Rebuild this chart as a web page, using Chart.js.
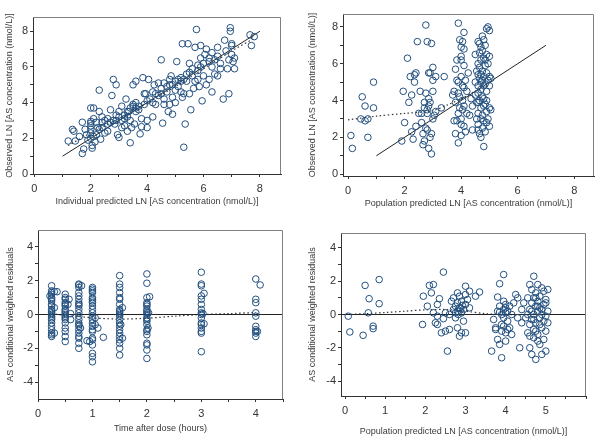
<!DOCTYPE html>
<html>
<head>
<meta charset="utf-8">
<script src="https://cdn.jsdelivr.net/npm/chart.js@4.4.0/dist/chart.umd.min.js"></script>
<style>
  body { margin: 0; background: #fff; }
  canvas { position: absolute; }
</style>
</head>
<body>
<canvas id="c1" style="left:0;top:0" width="300" height="220"></canvas>
<canvas id="c2" style="left:300px;top:0" width="300" height="220"></canvas>
<canvas id="c3" style="left:0;top:220px" width="300" height="224"></canvas>
<canvas id="c4" style="left:300px;top:220px" width="300" height="224"></canvas>
<script>
// observed vs individual predicted (top left)
const indivPoints = [
  [1.2,1.85],[1.45,1.85],[1.35,2.5],[1.4,2.4],[1.7,1.15],[1.75,1.4],[1.7,2.9],[1.6,2.1],[1.8,2.5],[1.85,2.2],
  [1.9,1.9],[2.0,2.0],[2.0,2.3],[2.0,2.5],[2.0,2.7],[2.0,2.85],[2.0,2.95],[2.05,1.6],[2.05,1.45],[2.1,2.1],
  [2.15,1.8],[2.2,2.2],[2.0,3.7],[2.1,3.7],[2.3,4.7],[2.25,2.6],[2.3,3.5],[2.35,1.95],[2.4,2.9],[2.4,3.2],
  [2.5,3.0],[2.5,2.3],[2.6,3.1],[2.6,2.4],[2.7,3.6],[2.75,4.4],[2.8,5.3],[2.9,5.0],[2.8,3.0],[2.85,2.8],
  [2.9,3.3],[2.95,2.2],[3.0,3.5],[3.0,2.05],[3.1,3.8],[3.1,3.0],[3.2,2.7],[3.2,3.3],[3.25,4.2],[3.3,3.2],
  [3.3,2.4],[3.35,3.5],[3.4,3.7],[3.4,1.75],[3.45,2.6],[3.5,5.0],[3.5,3.8],[3.5,3.9],[3.55,2.8],[3.6,5.2],
  [3.6,3.5],[3.7,3.6],[3.75,2.25],[3.8,2.65],[3.8,3.1],[3.85,5.4],[3.9,4.5],[3.95,4.5],[4.0,2.6],[4.0,3.0],
  [4.05,5.3],[4.1,4.2],[4.2,4.0],[4.2,3.2],[4.25,5.0],[4.3,4.5],[4.4,4.4],[4.5,4.8],[4.5,6.4],[4.55,2.85],
  [4.6,4.2],[4.6,5.1],[4.7,4.6],[4.75,3.5],[4.8,5.0],[4.8,5.3],[4.8,3.9],[4.85,5.5],[4.9,3.35],[4.9,4.3],
  [5.0,4.7],[5.0,5.2],[5.05,6.3],[5.1,4.9],[5.2,5.4],[5.2,5.2],[5.25,7.3],[5.25,4.3],[5.3,1.5],[5.35,2.8],
  [5.3,4.5],[5.4,5.6],[5.45,7.3],[5.5,6.2],[5.5,4.5],[5.55,3.6],[5.6,5.9],[5.65,4.8],[5.7,7.1],[5.75,8.1],
  [5.8,5.3],[5.8,6.1],[5.85,4.9],[5.9,7.2],[5.95,4.1],[6.0,5.5],[6.05,6.7],[6.1,7.0],[6.2,6.3],[6.2,5.3],
  [6.3,4.6],[6.3,6.0],[6.4,5.6],[6.5,7.1],[6.5,6.6],[6.6,5.9],[6.7,4.2],[6.75,7.5],[6.8,6.9],[6.85,5.9],
  [6.9,4.5],[6.9,6.4],[6.95,8.0],[6.95,8.2],[7.0,7.2],[7.0,6.7],[7.05,6.3],[7.1,5.9],[7.1,6.5],[7.0,7.3],
  [7.65,7.8],[7.7,7.2],[7.8,7.7],[3.6,3.7],[3.7,3.8],[3.3,3.5],[3.2,3.1],[3.0,3.2],[2.9,3.0],[2.7,2.9],
  [2.6,2.8],[4.5,4.5],[4.7,4.9],[4.9,5.0],[5.1,5.3],[5.3,5.3],[5.4,5.2],[5.6,5.5],[5.8,5.8],[6.0,6.2],
  [6.2,6.5],[6.4,6.4],[6.3,6.8],[5.9,6.0],[5.7,5.2],[4.4,5.1],[4.2,4.6],[4.0,4.1],[3.9,3.9],[2.3,2.5],
  [2.2,2.9],[2.4,2.6],[2.1,3.1],[3.1,2.6],[3.4,3.0],[3.6,4.0],[4.3,3.9],[4.6,3.9],[5.0,4.0],[5.2,4.6],
  [6.5,5.5],[6.6,6.2],[6.1,5.0],[5.5,5.7],[5.9,6.5]
];
const indivIdentity = [[1,1],[8,8]];
const indivTrend = [[1.2,1.6],[2,2.3],[3,3.1],[4,4.0],[5,4.9],[6,5.9],[7,6.9],[7.8,7.6]];

// observed vs population predicted (top right)
const popPoints = [
  [0.1,2.1],[0.15,1.4],[0.5,4.2],[0.45,3.0],[0.6,3.7],[0.6,2.9],[0.7,3.0],[0.7,2.0],[0.9,5.0],[0.9,3.6],
  [1.9,1.8],[1.95,4.5],[2.0,2.8],[2.1,6.3],[2.15,3.9],[2.2,5.3],[2.25,4.3],[2.25,2.3],[2.3,1.9],[2.35,5.0],
  [2.35,5.4],[2.4,5.5],[2.4,2.6],[2.45,7.2],[2.5,3.3],[2.55,4.5],[2.6,3.3],[2.6,2.8],[2.65,1.6],[2.7,3.9],
  [2.7,3.6],[2.75,8.1],[2.75,4.4],[2.75,2.5],[2.8,7.2],[2.8,3.5],[2.8,3.3],[2.85,5.5],[2.85,4.1],[2.85,1.4],
  [2.9,5.5],[2.9,2.0],[2.9,3.9],[2.95,7.1],[2.95,2.2],[2.95,1.1],[3.0,5.8],[3.0,5.1],[3.0,4.5],[3.0,3.0],
  [3.05,3.2],[3.1,5.3],[3.1,3.4],[2.65,2.2],[2.7,1.8],[2.8,2.4],[2.85,3.7],[3.3,3.6],[3.4,5.3],
  [3.7,4.3],[3.75,4.5],[3.8,2.2],[3.8,5.7],[3.85,6.2],[3.85,2.9],[3.9,8.2],[3.9,1.7],[3.9,5.0],[3.9,4.4],
  [3.95,7.3],[3.95,3.6],[4.0,6.9],[4.0,6.4],[4.0,5.3],[4.0,3.0],[4.0,2.1],[4.05,7.2],[4.05,4.8],[4.05,4.0],
  [4.1,7.7],[4.1,6.8],[4.1,5.9],[4.1,3.7],[4.1,2.6],[4.15,2.3],[4.15,5.1],[4.2,4.5],[4.2,3.3],[4.25,5.5],
  [4.3,3.2],[4.35,4.1],[4.4,2.4],[4.4,3.7],[3.75,2.9],[3.8,3.9],[3.9,3.3],[3.95,4.2],[4.0,2.7],[4.05,3.5],
  [4.1,4.7],[3.85,5.1],[4.0,6.2],
  [4.5,6.5],[4.5,5.0],[4.55,3.9],[4.55,3.0],[4.6,7.2],[4.6,6.0],[4.6,5.4],[4.6,4.8],[4.6,4.4],[4.6,3.3],
  [4.6,2.7],[4.65,7.1],[4.65,6.6],[4.65,5.8],[4.65,5.2],[4.65,2.2],[4.7,6.9],[4.7,6.2],[4.7,5.0],[4.7,4.6],
  [4.7,3.6],[4.7,2.0],[4.75,7.5],[4.75,5.6],[4.75,4.2],[4.75,3.2],[4.75,2.5],[4.8,1.5],[4.8,7.3],[4.8,6.3],
  [4.8,5.3],[4.8,4.1],[4.8,3.7],[4.8,2.9],[4.85,7.0],[4.85,5.9],[4.85,4.9],[4.85,2.3],[4.9,7.9],[4.9,6.5],
  [4.9,5.5],[4.9,4.5],[4.9,3.4],[4.9,2.8],[4.95,8.0],[4.95,6.0],[4.95,5.1],[4.95,3.0],[5.0,7.8],[5.0,6.4],
  [5.0,5.3],[5.0,3.6],[5.0,2.6],[5.05,5.2],[5.05,3.5],[4.5,4.3],[4.55,5.6],[4.6,3.9],[4.65,4.0],[4.7,5.4],
  [4.75,6.7],[4.8,4.8],[4.85,3.8],[4.9,4.0],[4.6,2.4],[4.7,3.0],[4.75,5.1],[4.85,6.2],[5.0,4.8]
];
const popIdentity = [[1,1],[7,7]];
const popTrend = [[0,2.95],[1,3.15],[2,3.3],[3,3.45],[3.5,3.75],[4,4.1],[4.5,4.5],[5,4.85]];

// CWRES vs time after dose (bottom left)
const timePoints = [
  [0.25,1.7],[0.25,1.4],[0.25,1.3],[0.25,1.2],[0.25,1.0],[0.25,0.8],[0.25,0.6],[0.25,0.5],[0.25,0.3],[0.25,0.2],
  [0.25,0.0],[0.25,-0.2],[0.25,-0.3],[0.25,-0.5],[0.25,-0.7],[0.25,-0.9],[0.25,-1.1],[0.25,-1.3],[0.25,-1.2],[0.25,0.9],
  [0.25,0.1],[0.25,-0.1],[0.3,1.35],[0.35,1.35],[0.3,0.4],[0.3,-1.1],[0.22,1.1],
  [0.5,1.2],[0.5,1.0],[0.5,0.9],[0.5,0.7],[0.5,0.5],[0.5,0.3],[0.5,0.2],[0.5,0.0],[0.5,-0.1],[0.5,-0.3],
  [0.5,-0.5],[0.5,-0.8],[0.5,-1.0],[0.5,-1.3],[0.5,-1.6],[0.5,0.6],[0.5,-0.2],[0.5,0.1],[0.55,0.6],[0.6,0.05],
  [0.6,-0.3],[0.57,0.9],
  [0.75,1.8],[0.75,1.75],[0.75,1.3],[0.75,1.1],[0.75,0.9],[0.75,0.7],[0.75,0.5],[0.75,0.3],[0.75,0.1],[0.75,-0.1],
  [0.75,-0.3],[0.75,-0.5],[0.75,-0.7],[0.75,-0.9],[0.75,-1.1],[0.75,-1.3],[0.75,-1.4],[0.75,-1.7],[0.75,-2.0],[0.75,0.6],
  [0.75,-0.6],[0.75,1.6],[0.8,1.7],[0.78,-0.8],
  [1.0,1.6],[1.0,1.5],[1.0,1.4],[1.0,1.3],[1.0,1.0],[1.0,0.9],[1.0,0.8],[1.0,0.5],[1.0,0.3],[1.0,0.1],
  [1.0,-0.1],[1.0,-0.3],[1.0,-0.5],[1.0,-0.7],[1.0,-0.9],[1.0,-1.0],[1.0,-1.4],[1.0,-1.5],[1.0,-1.8],[1.0,-2.3],
  [1.0,-2.5],[1.0,-2.8],[1.0,0.7],[0.9,-1.55],[1.05,-0.6],[1.1,-0.8],[1.05,-0.2],[1.2,-1.35],[0.95,-1.6],
  [1.5,2.3],[1.5,1.8],[1.5,1.6],[1.5,1.3],[1.5,1.0],[1.5,0.9],[1.5,0.6],[1.5,0.3],[1.5,0.1],[1.5,0.0],
  [1.5,-0.1],[1.5,-0.3],[1.5,-0.5],[1.5,-0.7],[1.5,-0.9],[1.5,-1.1],[1.5,-1.3],[1.5,-1.5],[1.5,-1.7],[1.5,-2.0],
  [1.5,-2.4],[1.5,0.2],[1.55,0.4],[1.52,-0.6],[1.55,-1.4],
  [2.0,2.4],[2.0,1.85],[2.0,1.0],[2.0,0.7],[2.0,0.6],[2.0,0.5],[2.0,0.3],[2.0,0.2],[2.0,0.1],[2.0,0.0],
  [2.0,-0.2],[2.0,-0.4],[2.0,-0.6],[2.0,-0.9],[2.0,-1.0],[2.0,-1.2],[2.0,-1.7],[2.0,-1.8],[2.0,-2.1],[2.0,-2.6],
  [2.0,-0.3],[2.05,1.05],[2.03,0.1],[2.02,-0.8],
  [3.0,2.5],[3.0,1.8],[3.0,1.7],[3.0,1.1],[3.0,0.9],[3.0,0.6],[3.0,0.3],[3.0,0.1],[3.0,0.0],[3.0,-0.2],
  [3.0,-0.5],[3.0,-0.6],[3.0,-0.8],[3.0,-1.0],[3.0,-1.1],[3.0,-2.2],[3.05,1.25],[3.05,-0.55],[3.03,0.05],
  [4.0,2.1],[4.0,0.9],[4.0,0.7],[4.0,0.1],[4.0,-0.1],[4.0,-0.7],[4.0,-0.9],[4.0,-1.0],[4.0,-1.1],[4.0,-1.3],
  [4.08,1.75],[4.03,-1.0]
];
const timeZero = [[0,0],[4.5,0]];
const timeTrend = [[0.25,0.05],[0.5,-0.05],[0.75,-0.12],[1,-0.2],[1.5,-0.27],[2,-0.22],[2.5,-0.1],[3,0.0],[3.5,0.05],[4,0.12]];

// CWRES vs population predicted (bottom right)
const predPoints = [
  [0.08,-0.1],[0.12,-1.05],[0.45,-1.25],[0.5,1.75],[0.6,0.95],[0.58,0.1],[0.7,-0.7],[0.7,-0.85],[0.85,2.1],[0.85,0.65],
  [1.93,-0.6],[1.95,1.1],[2.05,0.5],[2.1,1.75],[2.15,1.3],[2.2,1.8],[2.2,0.1],[2.25,-0.5],[2.3,0.6],[2.3,-0.6],
  [2.3,-0.1],[2.35,0.95],[2.4,-1.1],[2.45,2.55],[2.45,-0.25],[2.5,0.1],[2.5,-1.0],[2.55,-2.2],[2.6,-0.9],[2.6,0.0],
  [2.65,0.8],[2.7,1.0],[2.7,0.3],[2.75,0.5],[2.75,-0.2],[2.8,1.3],[2.8,0.7],[2.8,0.2],[2.8,-0.8],[2.85,0.4],
  [2.85,1.1],[2.85,-1.3],[2.9,0.1],[2.9,0.8],[2.9,-1.1],[2.95,0.3],[2.95,-0.4],[3.0,1.7],[3.0,1.2],[3.0,0.6],
  [3.0,-1.1],[3.05,0.9],[3.1,1.4],[3.1,0.4],[3.25,1.1],[3.35,1.35],[2.75,0.1],[2.82,0.0],[2.88,0.35],[2.92,0.55],
  [3.65,-2.2],[3.7,-0.3],[3.75,-0.9],[3.8,1.05],[3.8,-1.5],[3.8,0.2],[3.85,-1.8],[3.85,0.5],[3.85,1.85],[3.9,-0.6],
  [3.9,0.0],[3.9,-2.6],[3.95,2.4],[3.95,0.8],[3.95,0.3],[3.95,-0.2],[4.0,-1.1],[4.0,-1.6],[4.0,0.6],[4.0,0.1],
  [4.05,-0.4],[4.05,0.2],[4.1,-0.8],[4.1,0.5],[4.15,-1.2],[4.15,0.0],[4.2,0.7],[4.25,1.2],[4.3,-0.2],[4.3,1.0],
  [4.35,-2.0],[4.4,0.3],[4.4,-0.5],[4.45,0.7],[3.9,-1.0],[4.05,-0.9],[3.95,-0.7],[4.0,0.4],[3.85,0.15],[3.75,-0.8],
  [4.5,-0.2],[4.55,1.0],[4.55,-1.1],[4.6,-2.0],[4.6,0.3],[4.6,1.8],[4.6,-0.6],[4.65,-2.4],[4.65,1.5],[4.65,0.7],
  [4.65,-0.3],[4.7,2.3],[4.7,0.0],[4.7,-1.4],[4.7,1.0],[4.7,-0.9],[4.75,-2.7],[4.75,1.3],[4.75,0.5],[4.75,-0.5],
  [4.8,1.8],[4.8,-1.2],[4.8,0.2],[4.8,-1.6],[4.8,0.8],[4.85,-1.8],[4.85,1.1],[4.85,-0.2],[4.85,0.4],[4.9,-2.4],
  [4.9,1.6],[4.9,-0.8],[4.9,0.0],[4.95,1.4],[4.95,-1.5],[4.95,0.6],[4.95,-0.4],[5.0,-2.2],[5.0,0.9],[5.0,-0.1],
  [5.0,-1.0],[5.05,1.5],[5.05,0.2],[5.05,-0.5],[4.55,0.0],[4.6,-1.3],[4.65,0.2],[4.7,-0.3],[4.75,-1.0],[4.8,0.5],
  [4.85,-0.6],[4.9,0.3],[5.0,0.7],[4.75,1.0]
];
const predZero = [[-0.1,0],[6,0]];
const predTrend = [[0.05,0],[0.5,0.05],[1,0.12],[1.5,0.2],[2,0.28],[2.5,0.3],[3,0.2],[3.5,0.05],[4,0.0],[4.5,0.0],[5,0.0]];

// tick positions and which of them carry a label
const concTicks = [0,1,2,3,4,5,6,7,8];
const concLabels = [0,2,4,6,8];
const timeTicks = [0,0.5,1,1.5,2,2.5,3,3.5,4,4.5];
const timeLabels = [0,1,2,3,4];
const predTicks = [0,0.5,1,1.5,2,2.5,3,3.5,4,4.5,5,5.5,6];
const predLabels = [0,1,2,3,4,5];
const residTicks = [-4,-3,-2,-1,0,1,2,3,4];
const residLabels = [-4,-2,0,2,4];

const markerColor = '#23507f';
const fontFamily = '"Liberation Sans", Arial, sans-serif';

const framePlugin = {
  id: 'frame',
  afterDraw(chart) {
    const { ctx, chartArea: a } = chart;
    ctx.save();
    ctx.strokeStyle = '#808080';
    ctx.lineWidth = 1;
    ctx.beginPath();
    ctx.moveTo(a.left, a.top + 0.5);
    ctx.lineTo(a.right - 0.5, a.top + 0.5);
    ctx.lineTo(a.right - 0.5, a.bottom);
    ctx.stroke();
    ctx.restore();
  },
};

const toXY = (arr) => arr.map(([x, y]) => ({ x, y }));

function axis(c) {
  return {
    type: 'linear',
    min: c.min,
    max: c.max,
    afterBuildTicks: (ax) => { ax.ticks = c.ticks.map((v) => ({ value: v })); },
    afterFit: c.fit,
    ticks: {
      autoSkip: false,
      maxRotation: 0,
      padding: c.tickPad,
      color: '#333',
      font: { family: fontFamily, size: 11 },
      callback: (v) => (c.labels.includes(v) ? String(v) : ''),
    },
    grid: { drawOnChartArea: false, drawTicks: true, tickLength: 3, color: '#333' },
    border: { color: '#333' },
    title: {
      display: true,
      text: c.title,
      color: '#3a3a3a',
      font: { family: fontFamily, size: 9 },
      padding: c.titlePad,
    },
  };
}

function makePanel(id, p) {
  new Chart(document.getElementById(id), {
    type: 'scatter',
    data: {
      datasets: [
        {
          data: toXY(p.points),
          pointRadius: 3.3,
          borderWidth: 1,
          borderColor: markerColor,
          backgroundColor: 'transparent',
        },
        {
          type: 'line',
          data: toXY(p.ref),
          borderColor: '#222',
          borderWidth: 1,
          pointRadius: 0,
        },
        {
          type: 'line',
          data: toXY(p.trend),
          borderColor: '#333',
          borderWidth: 1.2,
          borderDash: [1.5, 2.5],
          pointRadius: 0,
          tension: 0.3,
        },
      ],
    },
    options: {
      responsive: false,
      animation: false,
      layout: { padding: { top: p.top, right: p.right, left: 0, bottom: 0 } },
      plugins: { legend: { display: false }, tooltip: { enabled: false } },
      scales: {
        x: axis({
          min: p.xMin, max: p.xMax, ticks: p.xTicks, labels: p.xLabels, title: p.xTitle,
          tickPad: 5, titlePad: { top: 0, bottom: p.xTitleBottom },
          fit: (ax) => { ax.height = p.xh; },
        }),
        y: axis({
          min: p.yMin, max: p.yMax, ticks: p.yTicks, labels: p.yLabels, title: p.yTitle,
          tickPad: 2, titlePad: { top: p.yTitleTop, bottom: 0 },
          fit: (ax) => { ax.width = p.yw; },
        }),
      },
    },
    plugins: [framePlugin],
  });
}

makePanel('c1', {
  points: indivPoints, ref: indivIdentity, trend: indivTrend,
  xMin: -0.05, xMax: 8.75, yMin: 0, yMax: 8.8,
  xTicks: concTicks, xLabels: concLabels, yTicks: concTicks, yLabels: concLabels,
  xTitle: 'Individual predicted LN [AS concentration (nmol/L)]',
  yTitle: 'Observed LN [AS concentration (nmol/L)]',
  top: 17, right: 19, yw: 33, xh: 46, xTitleBottom: 13, yTitleTop: 4,
});

makePanel('c2', {
  points: popPoints, ref: popIdentity, trend: popTrend,
  xMin: -0.18, xMax: 8.7, yMin: -0.1, yMax: 8.7,
  xTicks: concTicks, xLabels: concLabels, yTicks: concTicks, yLabels: concLabels,
  xTitle: 'Population predicted LN [AS concentration (nmol/L)]',
  yTitle: 'Observed LN [AS concentration (nmol/L)]',
  top: 14, right: 6, yw: 43, xh: 44, xTitleBottom: 11, yTitleTop: 7,
});

makePanel('c3', {
  points: timePoints, ref: timeZero, trend: timeTrend,
  xMin: 0, xMax: 4.5, yMin: -5, yMax: 5,
  xTicks: timeTicks, xLabels: timeLabels, yTicks: residTicks, yLabels: residLabels,
  xTitle: 'Time after dose (hours)',
  yTitle: 'AS conditional weighted residuals',
  top: 10, right: 17, yw: 38, xh: 45, xTitleBottom: 10, yTitleTop: 5,
});

makePanel('c4', {
  points: predPoints, ref: predZero, trend: predTrend,
  xMin: -0.1, xMax: 6.0, yMin: -4.9, yMax: 4.9,
  xTicks: predTicks, xLabels: predLabels, yTicks: residTicks, yLabels: residLabels,
  xTitle: 'Population predicted LN [AS concentration (nmol/L)]',
  yTitle: 'AS conditional weighted residuals',
  top: 13, right: 14, yw: 41, xh: 48, xTitleBottom: 7, yTitleTop: 7,
});
</script>
</body>
</html>
